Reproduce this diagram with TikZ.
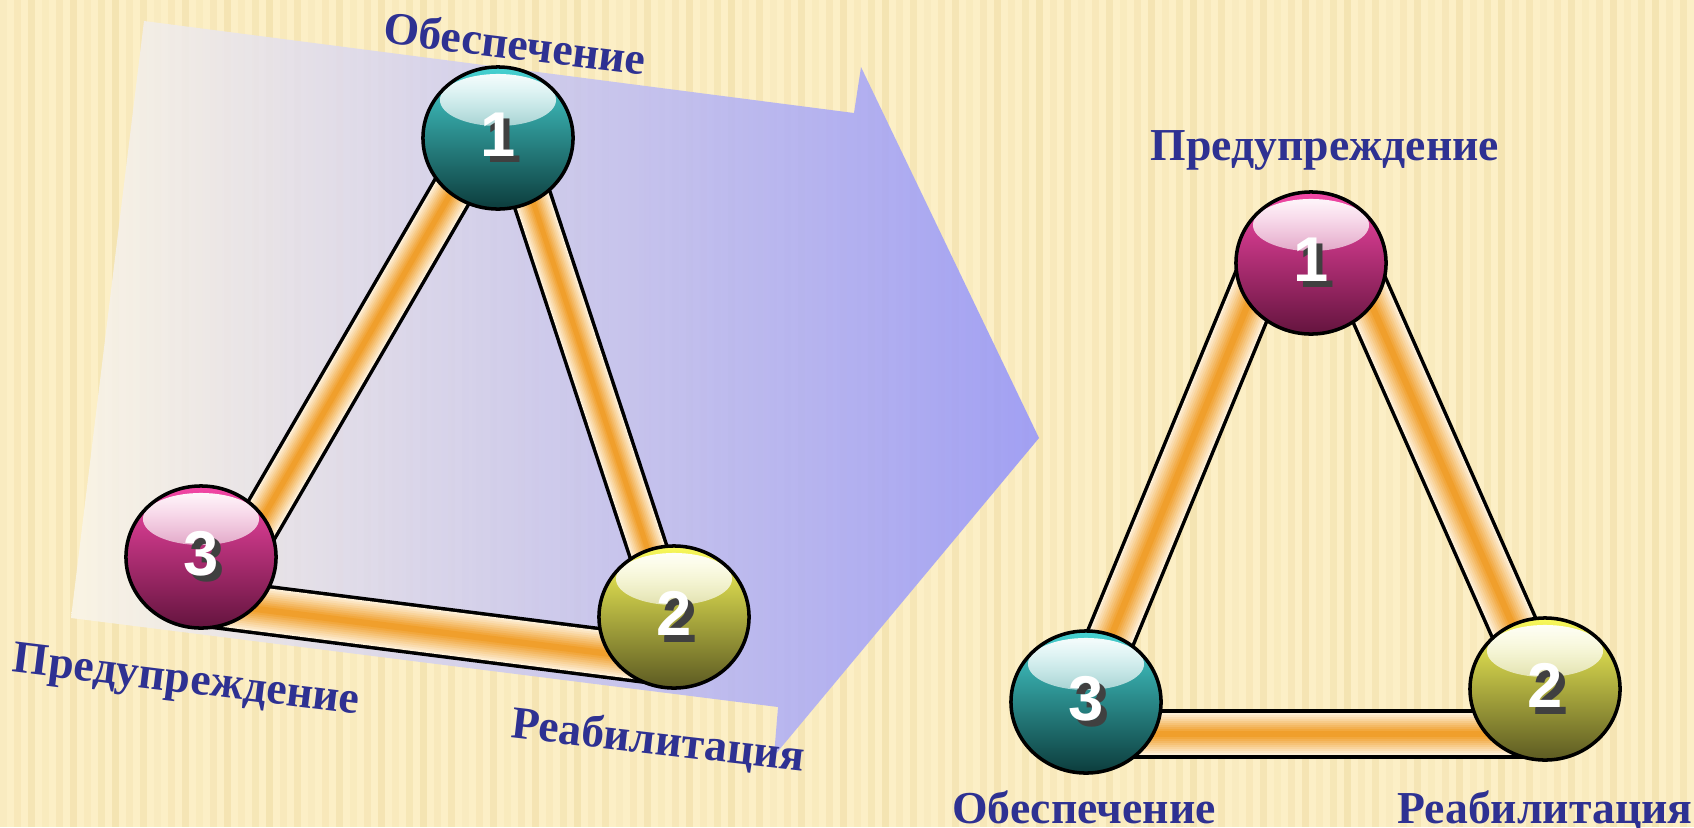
\documentclass[tikz,border=0pt]{standalone}
\usepackage{fontspec}
\setmainfont{Liberation Serif}
\newfontfamily\numfont{Liberation Sans}
\usetikzlibrary{shapes.geometric,calc,fadings,backgrounds}

\definecolor{bgcream}{RGB}{252,239,198}
\definecolor{bgstripe}{RGB}{232,208,142}
\definecolor{labelblue}{RGB}{46,49,146}
\definecolor{tubecream}{RGB}{253,238,212}
\definecolor{tubeorange}{RGB}{240,158,42}
\definecolor{panelleft}{RGB}{250,245,232}
\definecolor{panelmid}{RGB}{222,218,240}
\definecolor{panelright}{RGB}{152,152,248}

% white digit with a dark shadow
\newcommand{\ballnum}[1]{\makebox[0pt][l]{\hspace{1.8pt}\raisebox{-1.8pt}{\color{black!75}#1}}\color{white}#1}

% tube between two points: black rim, then cream to orange core
\newcommand{\tube}[3]{%
  \draw[line width=#3*0.01cm+2pt] (#1) -- (#2);
  \foreach \k in {0,...,9} {
    \pgfmathtruncatemacro\p{min(100,\k*11)}
    \draw[line width=#3*0.01cm*(1-\k/10.5), color=tubeorange!\p!tubecream] (#1) -- (#2);
  }
}

\tikzset{
  sphere/.style={ellipse, draw=black, line width=1pt, inner sep=0pt,
    minimum width=1.5cm, minimum height=1.42cm,
    font=\numfont\bfseries\fontsize{18}{18}\selectfont,
    path picture={\fill[white, path fading=south]
      ($(path picture bounding box.center)+(0,0.38cm)$) ellipse (0.58cm and 0.26cm);}},
  tealball/.style={sphere, top color={rgb,255:red,70;green,210;blue,210},
    middle color={rgb,255:red,38;green,158;blue,156}, bottom color={rgb,255:red,12;green,60;blue,60}},
  pinkball/.style={sphere, top color={rgb,255:red,244;green,70;blue,166},
    middle color={rgb,255:red,206;green,40;blue,128}, bottom color={rgb,255:red,100;green,20;blue,62}},
  yellowball/.style={sphere, top color={rgb,255:red,250;green,250;blue,90},
    middle color={rgb,255:red,204;green,204;blue,72}, bottom color={rgb,255:red,92;green,90;blue,34}},
  lbl/.style={text=labelblue, inner sep=0pt, font=\bfseries\fontsize{13}{15}\selectfont},
}

\begin{document}
\begin{tikzpicture}[x=0.01cm, y=-0.01cm]
  \useasboundingbox (0,0) rectangle (1694,827);

  \begin{scope}[on background layer]
    % striped background
    \fill[bgcream] (0,0) rectangle (1694,827);
    \foreach \i in {0,...,121} {
      \pgfmathsetmacro\op{0.10+0.28*mod(\i*37,11)/11}
      \fill[bgstripe, opacity=\op] (\i*14,0) rectangle ++(7,827);
    }
    % big arrow panel
    \shade[left color=panelleft, middle color=panelmid, right color=panelright, opacity=.9]
      (144,21) -- (854,113) -- (861,67) -- (1039,438) -- (774,756) -- (778,707) -- (71,618) -- cycle;
  \end{scope}

  % left triangle
  \node[tealball]   (l1) at (498,138) {\ballnum{1}};
  \node[yellowball] (l2) at (674,617) {\ballnum{2}};
  \node[pinkball]   (l3) at (201,557) {\ballnum{3}};

  % right triangle
  \node[pinkball]   (r1) at (1311,263) {\ballnum{1}};
  \node[yellowball] (r2) at (1545,689) {\ballnum{2}};
  \node[tealball]   (r3) at (1086,702) {\ballnum{3}};

  % tubes behind the spheres
  \begin{scope}[on background layer]
    \tube{$(l1)+(-15,0)$}{$(l3)+(39,0)$}{38}
    \tube{$(l1)+(14,0)$}{$(l2)+(-4,0)$}{35}
    \tube{$(l3)+(0,45)$}{$(l2)+(0,45)$}{44}
    \tube{$(r1)+(-46,0)$}{$(r3)+(-2,0)$}{44}
    \tube{$(r1)+(42,0)$}{$(r2)+(-4,0)$}{44}
    \tube{$(r3)+(0,32)$}{$(r2)+(0,45)$}{42}
  \end{scope}

  % labels
  \node[lbl, rotate=-7]   (lobesp) at (515,43)  {Обеспечение};
  \node[lbl, rotate=-7]   (lpred)  at (186,683) {Предупреждение};
  \node[lbl, rotate=-6.5] (lreab)  at (658,742) {Реабилитация};
  \node[lbl, anchor=base] (rpred)  at (1325,160) {Предупреждение};
  \node[lbl, anchor=base] (robesp) at (1084,823) {Обеспечение};
  \node[lbl, anchor=base] (rreab)  at (1545,823) {Реабилитация};
\end{tikzpicture}
\end{document}
